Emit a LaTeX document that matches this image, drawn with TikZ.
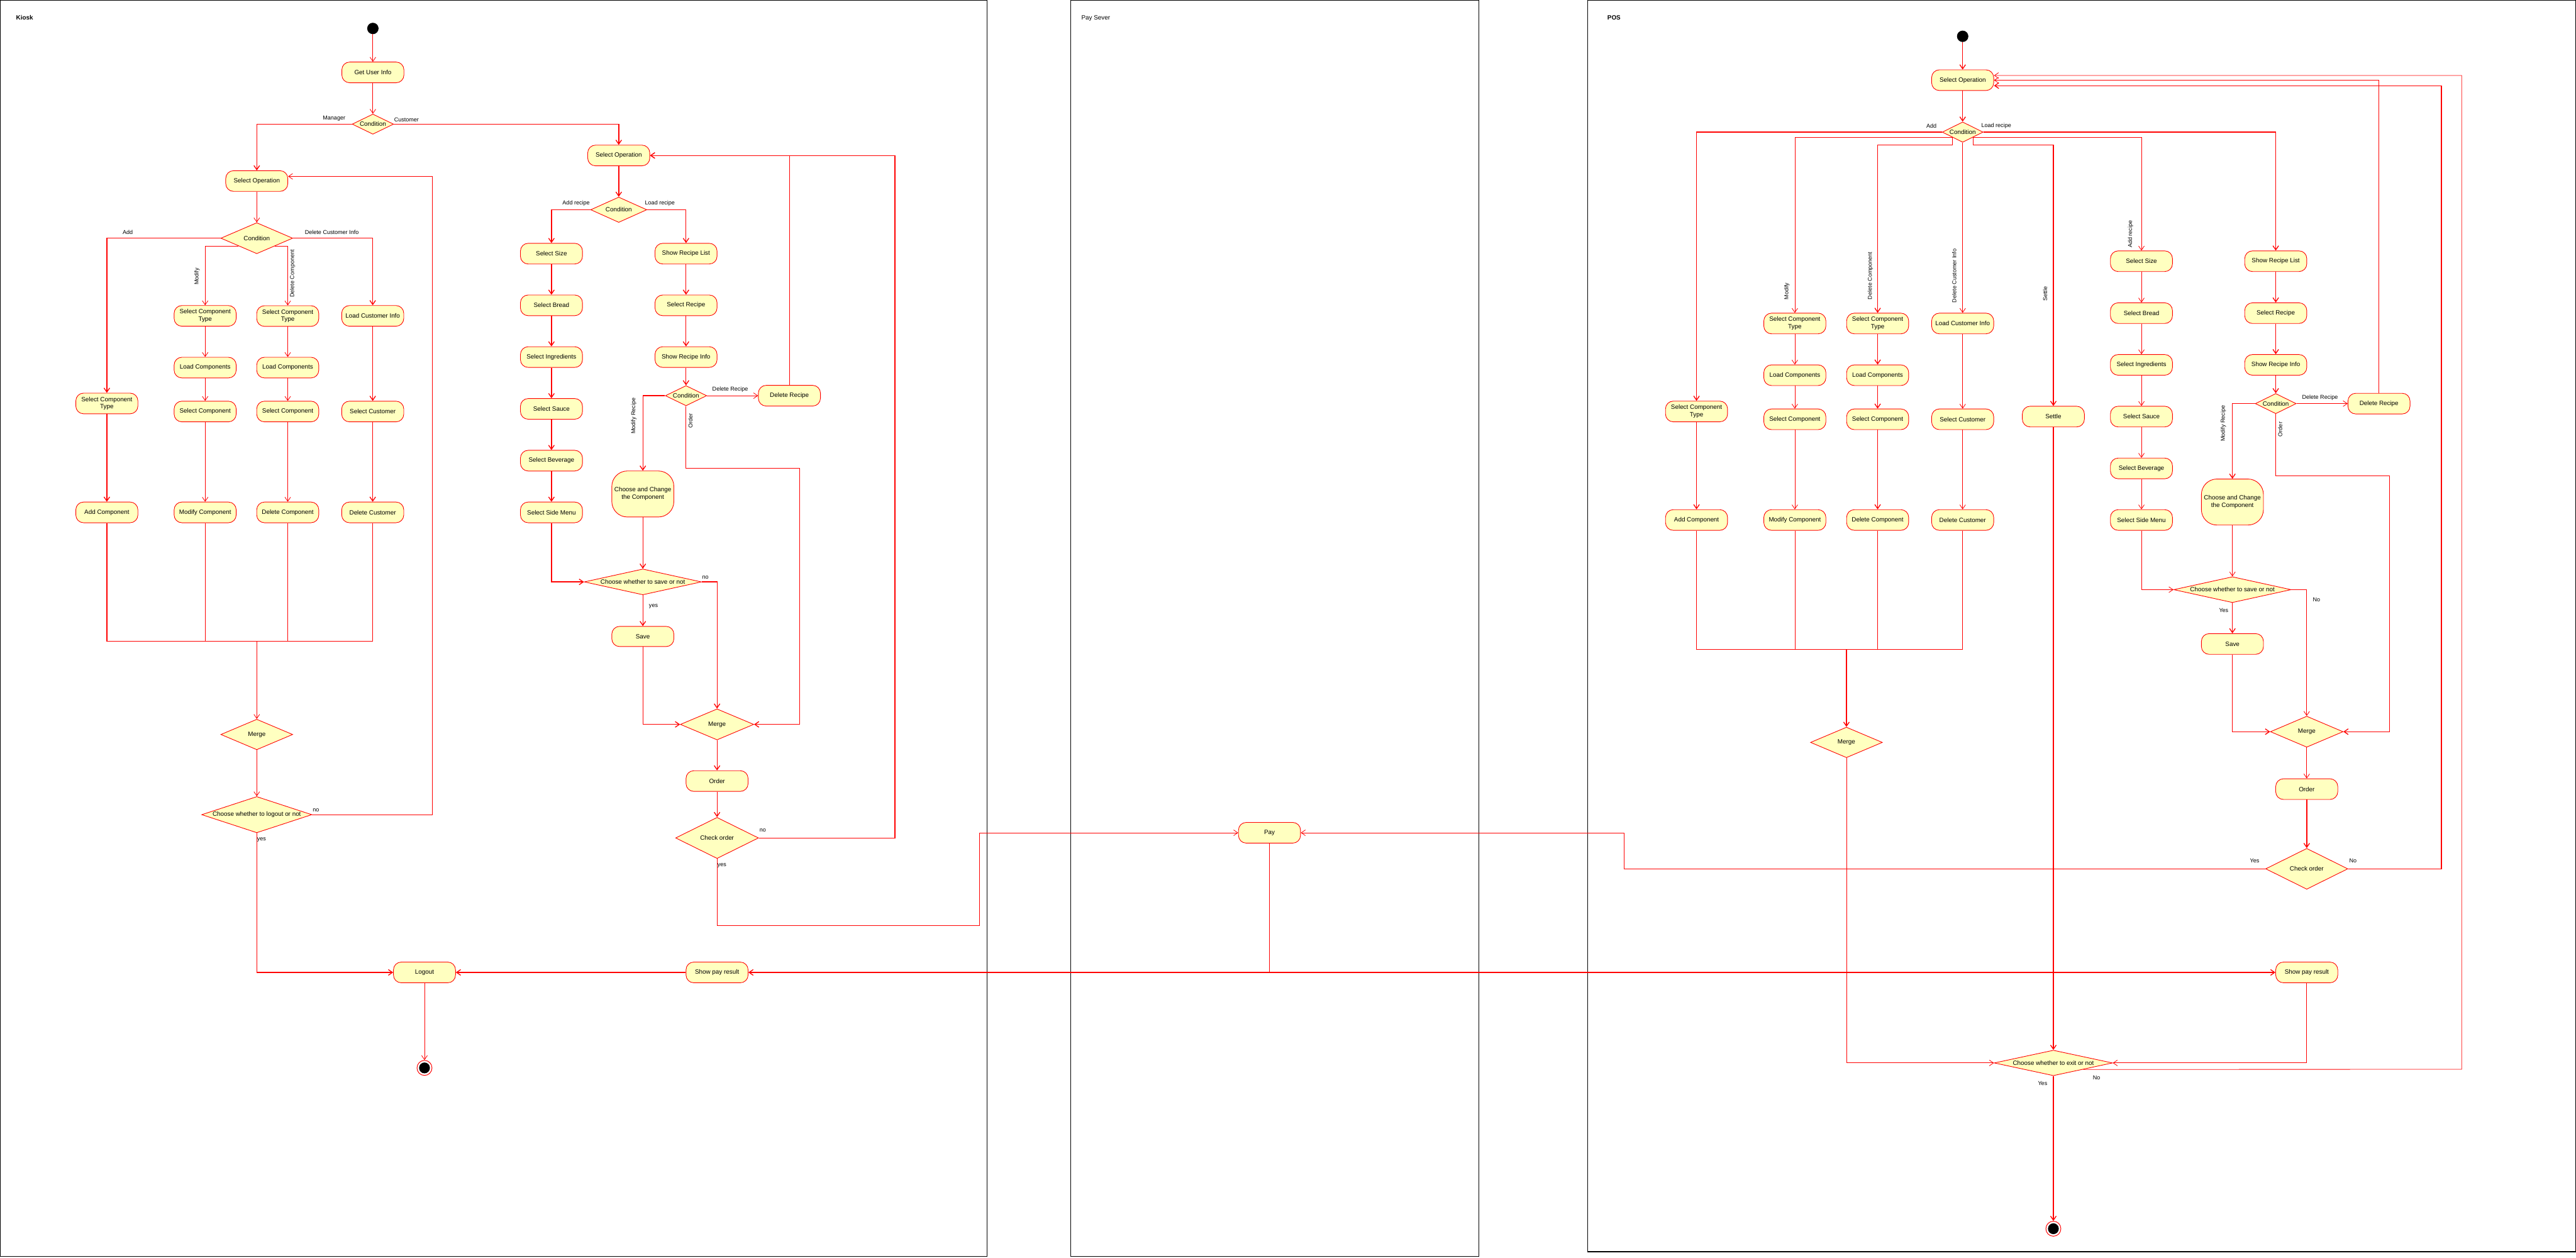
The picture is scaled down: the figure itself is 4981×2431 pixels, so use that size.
\documentclass[tikz,border=0pt]{standalone}
\usepackage{fontspec}
\setmainfont{Liberation Sans}
\usetikzlibrary{arrows.meta,shapes.geometric,calc}
\definecolor{actfill}{RGB}{255,255,192}
\newcommand\NodeFont{\fontsize{12}{14.5}\selectfont}
\newcommand\EdgeFont{\fontsize{11}{13}\selectfont}
\newcommand\DZ[1]{\makebox[0pt]{#1}}
\begin{document}
\begin{tikzpicture}[x=1pt,y=-1pt,
 act/.style={draw=red, fill=actfill, line width=1.1pt, rounded corners=15pt, minimum width=120pt, minimum height=40pt, inner sep=0pt, align=center, font=\NodeFont},
 dec/.style={draw=red, fill=actfill, line width=1.1pt, diamond, inner sep=0pt, font=\NodeFont},
 conn/.style={draw=red, line width=1pt, -{Straight Barb[length=8pt,width=11pt]}},
 wire/.style={draw=red, line width=1pt},
 thk/.style={line width=1.6pt},
 elab/.style={font=\EdgeFont, inner sep=0pt},
 rlab/.style={font=\EdgeFont, inner sep=0pt, rotate=90},
 lane/.style={draw=black, line width=1.5pt},
 startn/.style={circle, fill=black, minimum size=22pt, inner sep=0pt},
 endn/.style={circle, draw=red, fill=white, line width=1.2pt, minimum size=29pt, inner sep=0pt, path picture={\fill[black] (path picture bounding box.center) circle[radius=10.5pt];}},
]
\useasboundingbox (0,0) rectangle (4981,2431);
% lanes
\draw[lane] (1,1) rectangle (1909,2429);
\draw[lane] (2070,1) rectangle (2860,2429);
\draw[lane] (3070,1) rectangle (4980,2420);
\node[font=\bfseries\NodeFont, anchor=west, inner sep=0pt] (tKiosk) at (31,34) {Kiosk};
\node[font=\NodeFont, anchor=west, inner sep=0pt] (tPay) at (2091,35) {Pay Sever};
\node[font=\bfseries\NodeFont, anchor=west, inner sep=0pt] (tPOS) at (3108,34) {POS};

% ---------------- Kiosk nodes
\node[startn] (kS) at (721,55) {};
\node[act] (kGUI) at (721,140) {Get User Info};
\node[dec, minimum width=80pt, minimum height=39pt] (kC1) at (721,240) {\DZ{Condition}};
\node[act] (kSOm) at (496.5,350) {Select Operation};
\node[dec, minimum width=139pt, minimum height=60pt] (kC2) at (496.5,460.5) {\DZ{Condition}};
\node[act] (kSCTm) at (396.7,610.7) {Select Component\\Type};
\node[act] (kSCTd) at (556.4,611) {Select Component\\Type};
\node[act] (kLCI) at (720.7,610.7) {Load Customer Info};
\node[act] (kLCm) at (396.7,710.7) {Load Components};
\node[act] (kLCd) at (556.4,710.7) {Load Components};
\node[act] (kSCTa) at (206.6,780) {Select Component\\Type};
\node[act] (kSCm) at (396.7,795.6) {Select Component};
\node[act] (kSCd) at (556.4,795.6) {Select Component};
\node[act] (kSCu) at (720.7,795.6) {Select Customer};
\node[act] (kAC) at (206.6,990.6) {Add Component};
\node[act] (kMC) at (396.7,990.6) {Modify Component};
\node[act] (kDC) at (556.4,990.6) {Delete Component};
\node[act] (kDCu) at (720.7,990.6) {Delete Customer};
\coordinate (kJ) at (496.5,1240);
\node[dec, minimum width=139pt, minimum height=59pt] (kM) at (496.5,1420) {\DZ{Merge}};
\node[dec, minimum width=213pt, minimum height=70pt] (kL) at (496.5,1575) {\DZ{Choose whether to logout or not}};
\node[act] (kLog) at (820.8,1880) {Logout};
\node[endn] (kE) at (820.8,2064.6) {};

\node[act] (kSOc) at (1196.4,300.6) {Select Operation};
\node[dec, minimum width=108.6pt, minimum height=49pt] (kC3) at (1196.4,405.5) {\DZ{Condition}};
\node[act] (kSize) at (1066.3,490.4) {Select Size};
\node[act] (kBread) at (1066.3,590.3) {Select Bread};
\node[act] (kIng) at (1066.3,690.3) {Select Ingredients};
\node[act] (kSauce) at (1066.3,790.5) {Select Sauce};
\node[act] (kBev) at (1066.3,890.6) {Select Beverage};
\node[act] (kSide) at (1066.3,990.6) {Select Side Menu};
\node[act] (kSRL) at (1326.5,490.4) {Show Recipe List};
\node[act] (kSR) at (1326.5,590.3) {Select Recipe};
\node[act] (kSRI) at (1326.5,690.3) {Show Recipe Info};
\node[dec, minimum width=80pt, minimum height=39pt] (kC4) at (1326.5,765) {\DZ{Condition}};
\node[act] (kDR) at (1526.4,765) {Delete Recipe};
\node[act, minimum height=89pt, rounded corners=30pt] (kCC) at (1243,955) {Choose and Change\\the Component};
\node[dec, minimum width=226.5pt, minimum height=50pt] (kCS) at (1243,1125) {\DZ{Choose whether to save or not}};
\node[act, minimum height=39pt] (kSv) at (1243,1230.5) {Save};
\node[dec, minimum width=142pt, minimum height=60pt] (kM2) at (1386.5,1400.5) {\DZ{Merge}};
\node[act] (kOrd) at (1386.5,1510) {Order};
\node[dec, minimum width=160.4pt, minimum height=79.5pt] (kCO) at (1386.5,1620) {\DZ{Check order}};
\node[act] (kSPR) at (1386.5,1880) {Show pay result};

% ---------------- Pay
\node[act] (pay) at (2454.7,1610) {Pay};

% ---------------- POS nodes
\node[startn] (pS) at (3795,70.2) {};
\node[act] (pSO) at (3795,155) {Select Operation};
\node[dec, minimum width=79pt, minimum height=39.3pt] (pC1) at (3795,255.4) {\DZ{Condition}};
\node[act] (pSCTm) at (3470.5,625.4) {Select Component\\Type};
\node[act] (pSCTd) at (3630.6,625.4) {Select Component\\Type};
\node[act] (pLCI) at (3795,625.4) {Load Customer Info};
\node[act] (pLCm) at (3470.5,725.4) {Load Components};
\node[act] (pLCd) at (3630.6,725.4) {Load Components};
\node[act] (pSCTa) at (3280.4,795.5) {Select Component\\Type};
\node[act] (pSCm) at (3470.5,810.6) {Select Component};
\node[act] (pSCd) at (3630.6,810.6) {Select Component};
\node[act] (pSCu) at (3795,810.6) {Select Customer};
\node[act] (pSet) at (3970.4,805.4) {Settle};
\node[act] (pAC) at (3280.4,1005.3) {Add Component};
\node[act] (pMC) at (3470.5,1005.3) {Modify Component};
\node[act] (pDC) at (3630.6,1005.3) {Delete Component};
\node[act] (pDCu) at (3795,1005.3) {Delete Customer};
\coordinate (pJoin) at (3570.3,1255.2);
\node[dec, minimum width=139pt, minimum height=59pt] (pM) at (3570.3,1435.3) {\DZ{Merge}};
\node[act] (pSize) at (4140.7,505) {Select Size};
\node[act] (pBread) at (4140.7,605.4) {Select Bread};
\node[act] (pIng) at (4140.7,705.4) {Select Ingredients};
\node[act] (pSauce) at (4140.7,805.4) {Select Sauce};
\node[act] (pBev) at (4140.7,905.6) {Select Beverage};
\node[act] (pSide) at (4140.7,1005.3) {Select Side Menu};
\node[act] (pSRL) at (4400.4,505) {Show Recipe List};
\node[act] (pSR) at (4400.4,605.4) {Select Recipe};
\node[act] (pSRI) at (4400.4,705.4) {Show Recipe Info};
\node[dec, minimum width=79pt, minimum height=39pt] (pC2) at (4400.4,780.3) {\DZ{Condition}};
\node[act] (pDR) at (4600,780.3) {Delete Recipe};
\node[act, minimum height=89pt, rounded corners=30pt] (pCC) at (4316.6,970.6) {Choose and Change\\the Component};
\node[dec, minimum width=227pt, minimum height=50pt] (pCS) at (4316.6,1140) {\DZ{Choose whether to save or not}};
\node[act] (pSv) at (4316.6,1245) {Save};
\node[dec, minimum width=140.6pt, minimum height=60pt] (pM2) at (4460.3,1414.6) {\DZ{Merge}};
\node[act] (pOrd) at (4460.3,1525.6) {Order};
\node[dec, minimum width=159pt, minimum height=79pt] (pCO) at (4460.3,1679.7) {\DZ{Check order}};
\node[act] (pSPR) at (4460.3,1880) {Show pay result};
\node[dec, minimum width=228.8pt, minimum height=49.3pt] (pEx) at (3970.4,2055) {\DZ{Choose whether to exit or not}};
\node[endn] (pE) at (3970.4,2375.5) {};

% ---------------- Kiosk connectors (manager)
\draw[conn] (kS) -- (kGUI);
\draw[conn] (kGUI) -- (kC1);
\draw[conn,thk] (kC1.west) -| (kSOm.north);
\draw[conn,thk] (kC1.east) -| (kSOc.north);
\draw[conn] (kSOm) -- (kC2);
\draw[conn,thk] (kC2.west) -| (kSCTa.north);
\draw[conn] (kC2.south west) -| (kSCTm.north);
\draw[conn] (kC2.south east) -| (kSCTd.north);
\draw[conn,thk] (kC2.east) -| (kLCI.north);
\draw[conn] (kSCTm) -- (kLCm);
\draw[conn] (kLCm) -- (kSCm);
\draw[conn] (kSCm) -- (kMC);
\draw[conn] (kSCTd) -- (kLCd);
\draw[conn] (kLCd) -- (kSCd);
\draw[conn] (kSCd) -- (kDC);
\draw[conn,thk] (kLCI) -- (kSCu);
\draw[conn,thk] (kSCu) -- (kDCu);
\draw[conn,thk] (kSCTa) -- (kAC);
\draw[wire,thk] (kAC.south) |- (kJ);
\draw[wire] (kMC.south) |- (kJ);
\draw[wire] (kDC.south) |- (kJ);
\draw[wire] (kDCu.south) |- (kJ);
\draw[conn] (kJ) -- (kM);
\draw[conn] (kM) -- (kL);
\draw[conn,thk] (kL.south) |- (kLog.west);
\coordinate (kRet) at (836,341);
\draw[conn] (kL.east) -| (kRet) -- ([yshift=9pt]kSOm.east);
\draw[conn] (kLog) -- (kE);

% ---------------- Kiosk connectors (customer)
\draw[conn,thk] (kSOc) -- (kC3);
\draw[conn,thk] (kC3.west) -| (kSize.north);
\draw[conn,thk] (kC3.east) -| (kSRL.north);
\draw[conn,thk] (kSize) -- (kBread);
\draw[conn,thk] (kBread) -- (kIng);
\draw[conn,thk] (kIng) -- (kSauce);
\draw[conn,thk] (kSauce) -- (kBev);
\draw[conn,thk] (kBev) -- (kSide);
\draw[conn,thk] (kSRL) -- (kSR);
\draw[conn,thk] (kSR) -- (kSRI);
\draw[conn,thk] (kSRI) -- (kC4);
\draw[conn] (kC4.east) -- (kDR.west);
\draw[conn,thk] (kC4.west) -| (kCC.north);
\coordinate (kOrdR) at (1546.3,905);
\draw[conn,thk] (kC4.south) |- (kOrdR) |- (kM2.east);
\draw[conn] (kDR.north) |- (kSOc.east);
\draw[conn,thk] (kCC) -- (kCS);
\draw[conn,thk] (kSide.south) |- (kCS.west);
\draw[conn,thk] (kCS.east) -| (kM2.north);
\draw[conn,thk] (kCS) -- (kSv);
\draw[conn,thk] (kSv.south) |- (kM2.west);
\draw[conn,thk] (kM2) -- (kOrd);
\draw[conn,thk] (kOrd) -- (kCO);
\coordinate (kNo) at (1730.6,1620);
\draw[conn,thk] (kCO.east) -- (kNo) |- (kSOc.east);
\coordinate (kYes) at (1893.5,1789.8);
\draw[conn] (kCO.south) |- (kYes) |- (pay.west);
\draw[conn,thk] (kSPR.west) -- (kLog.east);

% ---------------- Pay connectors
\coordinate (pJ) at (2454.7,1880);
\draw[wire] (pay.south) -- (pJ);
\draw[conn,thk] (pJ) -- (kSPR.east);
\draw[conn,thk] (pJ) -- (pSPR.west);

% ---------------- POS connectors
\draw[conn,thk] (pS) -- (pSO);
\draw[conn,thk] (pSO) -- (pC1);
\draw[conn,thk] (pC1.west) -| (pSCTa.north);
\draw[conn] (pC1.south west) -| (pSCTm.north);
\coordinate (pDcB) at (3630.6,280.6);
\draw[conn,thk] (pC1.south west) |- (pDcB) -- (pSCTd.north);
\draw[conn] (pC1.south) -- (pLCI.north);
\coordinate (pStB) at (3970.4,280.6);
\draw[conn,thk] (pC1.south east) |- (pStB) -- (pSet.north);
\draw[conn] (pC1.south east) -| (pSize.north);
\draw[conn,thk] (pC1.east) -| (pSRL.north);
\draw[conn] (pSCTm) -- (pLCm);
\draw[conn] (pLCm) -- (pSCm);
\draw[conn] (pSCm) -- (pMC);
\draw[conn,thk] (pSCTd) -- (pLCd);
\draw[conn,thk] (pLCd) -- (pSCd);
\draw[conn,thk] (pSCd) -- (pDC);
\draw[conn] (pLCI) -- (pSCu);
\draw[conn] (pSCu) -- (pDCu);
\draw[conn,thk] (pSCTa) -- (pAC);
\draw[wire,thk] (pAC.south) |- (pJoin);
\draw[wire] (pMC.south) |- (pJoin);
\draw[wire] (pDC.south) |- (pJoin);
\draw[wire] (pDCu.south) |- (pJoin);
\draw[conn,thk] (pJoin) -- (pM);
\draw[conn] (pM.south) |- (pEx.west);
\draw[conn,thk] (pSet) -- (pEx);
\draw[conn] (pSize) -- (pBread);
\draw[conn] (pBread) -- (pIng);
\draw[conn] (pIng) -- (pSauce);
\draw[conn] (pSauce) -- (pBev);
\draw[conn] (pBev) -- (pSide);
\draw[conn,thk] (pSRL) -- (pSR);
\draw[conn,thk] (pSR) -- (pSRI);
\draw[conn,thk] (pSRI) -- (pC2);
\draw[conn] (pC2.east) -- (pDR.west);
\draw[conn,thk] (pC2.west) -| (pCC.north);
\coordinate (pOrdR) at (4620,919.7);
\draw[conn,thk] (pC2.south) |- (pOrdR) |- (pM2.east);
\draw[conn] (pDR.north) |- (pSO.east);
\draw[conn] (pCC) -- (pCS);
\draw[conn] (pSide.south) |- (pCS.west);
\draw[conn] (pCS.east) -| (pM2.north);
\draw[conn,thk] (pCS) -- (pSv);
\draw[conn,thk] (pSv.south) |- (pM2.west);
\draw[conn] (pM2) -- (pOrd);
\draw[conn,thk] (pOrd) -- (pCO);
\coordinate (pNo) at (4720.6,1679.7);
\draw[conn,thk] (pCO.east) -- (pNo) |- ([yshift=-10.6pt]pSO.east);
\coordinate (pYes) at (3140.2,1610);
\draw[conn] (pCO.west) -| (pYes) -- (pay.east);
\draw[conn] (pSPR.south) |- (pEx.east);
\draw[conn,thk] (pEx) -- (pE);
\coordinate (pExNo) at (4760,2067.3);
\draw[conn] (pEx.south east) -- (pExNo) |- ([yshift=9pt]pSO.east);

% ---------------- labels
\node[elab] (lMan) at (646,229) {Manager};
\node[elab] (lCus) at (786,231) {Customer};
\node[elab] (lAdd) at (247,449) {Add};
\node[rlab] (lMod) at (381,534.5) {Modify};
\node[rlab] (lDelC) at (565.7,529) {Delete Component};
\node[elab] (lDCI) at (641.6,449) {Delete Customer Info};
\node[elab] (lno1) at (611,1566) {no};
\node[elab] (lyes1) at (505.7,1623) {yes};
\node[elab] (lAR) at (1114,393.5) {Add recipe};
\node[elab] (lLR) at (1276,393.5) {Load recipe};
\node[elab] (lDR) at (1412,753.4) {Delete Recipe};
\node[rlab] (lMR) at (1225.5,804) {Modify Recipe};
\node[rlab] (lOrd) at (1335,813.7) {Order};
\node[elab] (lno2) at (1364,1116) {no};
\node[elab] (lyes2) at (1263.5,1172.4) {yes};
\node[elab] (lno3) at (1475,1605) {no};
\node[elab] (lyes3) at (1396,1672.7) {yes};
\node[elab] (lAdd2) at (3734.7,244) {Add};
\node[elab] (lLR2) at (3860,244) {Load recipe};
\node[rlab] (lMod2) at (3455,563) {Modify};
\node[rlab] (lDelC2) at (3616.5,533) {Delete Component};
\node[rlab] (lDCI2) at (3778.8,533) {Delete Customer Info};
\node[rlab] (lSet) at (3954.5,568) {Settle};
\node[rlab] (lAR2) at (4119.6,452.5) {Add recipe};
\node[elab] (lDR2) at (4486,769) {Delete Recipe};
\node[rlab] (lMR2) at (4299,818.7) {Modify Recipe};
\node[rlab] (lOrd2) at (4409,830) {Order};
\node[elab] (lNo4) at (4479.3,1159) {No};
\node[elab] (lYes4) at (4299.8,1179.5) {Yes};
\node[elab] (lYes5) at (4359.6,1663.9) {Yes};
\node[elab] (lNo5) at (4549.7,1663.9) {No};
\node[elab] (lNo6) at (4054,2084) {No};
\node[elab] (lYes6) at (3949.6,2094.6) {Yes};
\end{tikzpicture}
\end{document}
